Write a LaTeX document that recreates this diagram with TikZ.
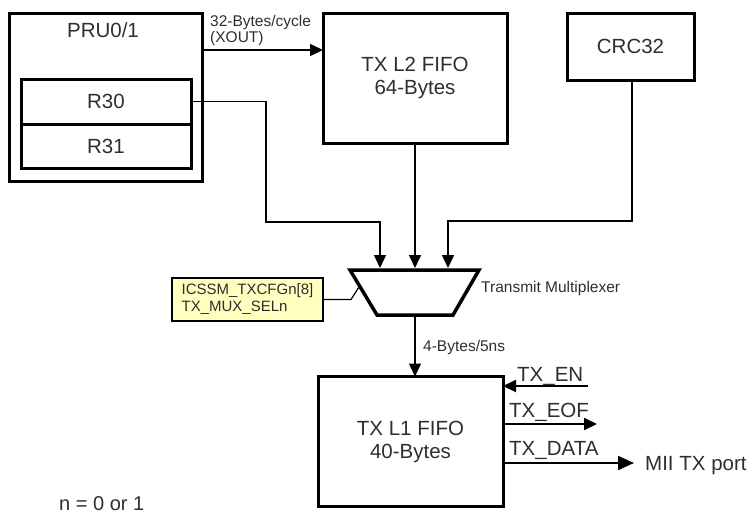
\documentclass[tikz,border=0pt]{standalone}
\usepackage{fontspec}
\setmainfont{Liberation Sans}
\usetikzlibrary{arrows.meta}
\definecolor{txt}{gray}{0.18}
\definecolor{noteyellow}{RGB}{255,255,192}
\newcommand{\bigf}{\fontsize{20.5}{23}\selectfont}
\newcommand{\smallf}{\fontsize{15.5}{17}\selectfont}
\newcommand{\notef}{\fontsize{15}{17}\selectfont}
\begin{document}
\begin{tikzpicture}[x=1pt,y=-1pt,
  box/.style={draw=black, line width=3pt, inner sep=0pt, outer sep=0pt, align=center, text=txt, font=\bigf},
  lbl/.style={inner sep=0pt, text=txt, font=\bigf},
  slbl/.style={inner sep=0pt, text=txt, font=\smallf},
  conn/.style={draw=black, line width=1.5pt, -{Triangle[length=13pt,width=12pt]}},
  sig/.style={draw=black, line width=2pt, -{Triangle[length=13pt,width=12pt]}},
  bigsig/.style={draw=black, line width=2pt, -{Triangle[length=16pt,width=14pt]}}]
\useasboundingbox (0,0) rectangle (749,514);

% PRU block
\node[box, minimum width=193, minimum height=168] (pru) at (105.5,97) {};
\node[lbl, anchor=base] (prulbl) at (103,37) {PRU0/1};
\node[box, minimum width=170, minimum height=45] (r30) at (106,101.5) {R30};
\node[box, minimum width=170, minimum height=44] (r31) at (106,146) {R31};

% FIFOs and CRC
\node[box, minimum width=184, minimum height=130] (l2) at (415,78) {TX L2 FIFO\\64-Bytes};
\node[box, minimum width=127, minimum height=67] (crc) at (630.5,46.5) {CRC32};
\node[box, minimum width=185, minimum height=130] (l1) at (410.5,441.5) {TX L1 FIFO\\40-Bytes};

% select register note
\node[draw=black, fill=noteyellow, line width=2pt, minimum width=151, minimum height=43,
      inner sep=0pt, align=left, font=\notef, text=txt] (sel) at (247.5,299.5)
      {ICSSM\_TXCFGn[8]\\TX\_MUX\_SELn};

% multiplexer
\coordinate (mTL) at (350,270);
\coordinate (mTR) at (479,270);
\coordinate (mBR) at (453,315);
\coordinate (mBL) at (377,315);
\draw[line width=3.5pt, line join=miter] (mTL) -- (mTR) -- (mBR) -- (mBL) -- cycle;
\coordinate (m1) at (380,268);
\coordinate (m2) at (415,268);
\coordinate (m3) at (448,268);
\coordinate (mo) at (415,317);
\coordinate (msel) at (359,287);
\coordinate (selk) at (351,299.5);
\node[slbl, anchor=base west] (muxlbl) at (481,292) {Transmit Multiplexer};

% routing
\coordinate (j1) at (266,222);
\coordinate (j3) at (632,221);
\draw[conn] (r30.east) -| (j1) -- (j1 -| m1) -- (m1);
\draw[conn] (l2.south) -- (m2);
\draw[conn] (crc.south -| j3) -- (j3) -- (j3 -| m3) -- (m3);
\draw[line width=1.2pt] (sel.east) -- (selk) -- (msel);

% PRU to L2
\draw[conn] (pru.east |- 0,50) -- (l2.west |- 0,50);
\node[slbl, anchor=base west] (xa) at (210,26) {32-Bytes/cycle};
\node[slbl, anchor=base west] (xb) at (210,42) {(XOUT)};

% mux to L1
\draw[conn] (mo) -- (l1.north -| mo);
\node[slbl, anchor=base west] (rate) at (423,351) {4-Bytes/5ns};

% L1 signals
\coordinate (en) at (588,386);
\coordinate (eof) at (597,424);
\coordinate (dat) at (634,463);
\draw[sig] (en) -- (l1.east |- en);
\draw[sig] (l1.east |- eof) -- (eof);
\draw[bigsig] (l1.east |- dat) -- (dat);
\node[lbl, anchor=base west] (enl) at (517,381) {TX\_EN};
\node[lbl, anchor=base west] (eofl) at (509,417) {TX\_EOF};
\node[lbl, anchor=base west] (datl) at (509,455) {TX\_DATA};
\node[lbl, anchor=base west] (mii) at (645,470) {MII TX port};

% footnote
\node[lbl, font=\fontsize{20}{24}\selectfont, anchor=base west] (note) at (59,510) {n = 0 or 1};
\end{tikzpicture}
\end{document}
